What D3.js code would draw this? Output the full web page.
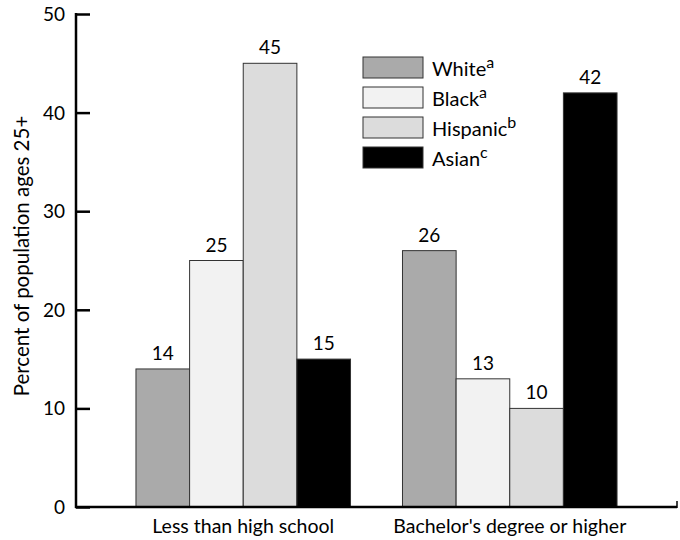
<!DOCTYPE html>
<html><head><meta charset="utf-8">
<script src="https://cdn.jsdelivr.net/npm/d3@7"></script>
<style>body{margin:0;background:#fff;} text{font-family:Lato,"Open Sans",sans-serif;fill:#000;}</style>
</head><body>
<svg id="c" width="680" height="540"></svg>
<script>
const categories = ["Less than high school", "Bachelor's degree or higher"];
const seriesNames = ["White", "Black", "Hispanic", "Asian"];
const seriesSup = ["a", "a", "b", "c"];
const seriesColors = ["#aaaaaa", "#f2f2f2", "#dcdcdc", "#000000"];
const White = [14, 26];
const Black = [25, 13];
const Hispanic = [45, 10];
const Asian = [15, 42];
const yTicks = [0, 10, 20, 30, 40, 50];
const yTitle = "Percent of population ages 25+";

const values = [White, Black, Hispanic, Asian];
const svg = d3.select("#c");
const x0 = d3.scaleBand().domain(categories).range([76, 677]).paddingInner(0.195).paddingOuter(0.225);
const x1 = d3.scaleBand().domain(seriesNames).range([0, x0.bandwidth()]);
const y = d3.scaleLinear().domain([0, 50]).range([507, 14]);

// bars
categories.forEach((cat, ci) => {
  const g = svg.append("g").attr("transform", `translate(${x0(cat)},0)`);
  seriesNames.forEach((s, si) => {
    const v = values[si][ci];
    g.append("rect").attr("x", x1(s)).attr("y", y(v)).attr("width", x1.bandwidth()).attr("height", y(0) - y(v))
      .attr("fill", seriesColors[si]).attr("stroke", "#333").attr("stroke-width", 1);
    g.append("text").attr("x", x1(s) + x1.bandwidth() / 2).attr("y", y(v) - 9).attr("text-anchor", "middle")
      .attr("font-size", 19).text(v);
  });
});

// y axis
const yAxis = d3.axisRight(y).tickValues(yTicks).tickSize(14).tickFormat("");
const ya = svg.append("g").attr("transform", "translate(76,0)").call(yAxis);
ya.select(".domain").remove();
ya.selectAll("line").attr("stroke", "#000").attr("stroke-width", 2.5);
svg.append("line").attr("x1", 76).attr("x2", 76).attr("y1", y(50) - 1).attr("y2", y(0) + 1).attr("stroke", "#000").attr("stroke-width", 2.5);
yTicks.forEach(t => {
  svg.append("text").attr("x", 65).attr("y", y(t) + 7).attr("text-anchor", "end").attr("font-size", 19).text(t);
});
// x axis line
svg.append("line").attr("x1", 75).attr("x2", 677).attr("y1", y(0)).attr("y2", y(0)).attr("stroke", "#000").attr("stroke-width", 2.5);
svg.append("line").attr("x1", 677).attr("x2", 677).attr("y1", y(0) + 1).attr("y2", y(0) - 6).attr("stroke", "#000").attr("stroke-width", 1.5);

// x labels
categories.forEach(cat => {
  svg.append("text").attr("x", x0(cat) + x0.bandwidth() / 2).attr("y", 533).attr("text-anchor", "middle")
    .attr("font-size", 19.5).text(cat);
});

// y title
svg.append("text").attr("transform", "translate(29,256) rotate(-90)").attr("text-anchor", "middle")
  .attr("font-size", 20.5).text(yTitle);

// legend
seriesNames.forEach((s, i) => {
  const yy = 57 + i * 30;
  svg.append("rect").attr("x", 363).attr("y", yy).attr("width", 60).attr("height", 21)
    .attr("fill", seriesColors[i]).attr("stroke", "#333").attr("stroke-width", 1);
  const t = svg.append("text").attr("x", 432).attr("y", yy + 19).attr("font-size", 20);
  t.append("tspan").text(s);
  t.append("tspan").attr("dy", -8).attr("font-size", 16).text(seriesSup[i]);
});
</script>
</body></html>
